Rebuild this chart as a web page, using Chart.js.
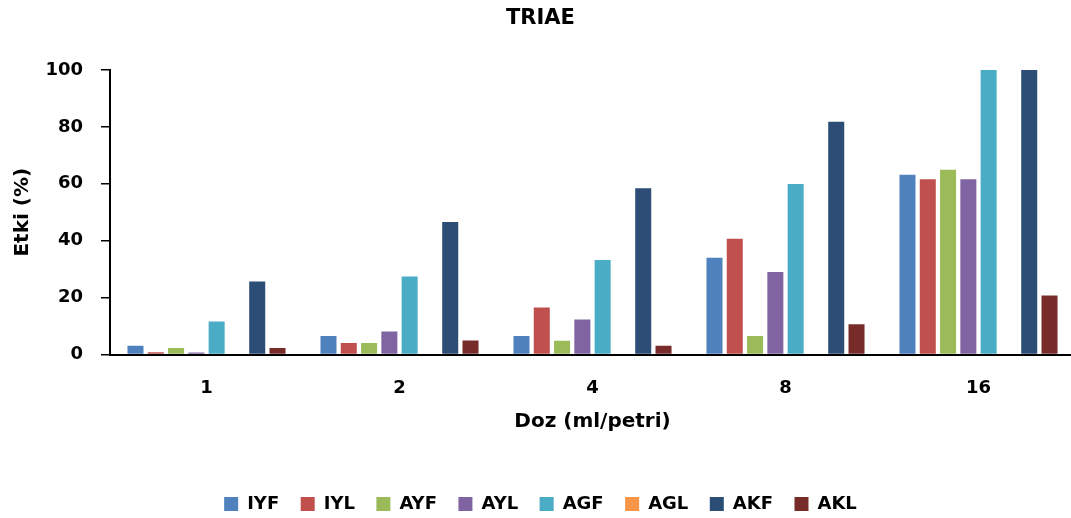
<!DOCTYPE html>
<html>
<head>
<meta charset="utf-8">
<script src="https://cdn.jsdelivr.net/npm/chart.js@4/dist/chart.umd.min.js"></script>
<style>
  html, body { margin: 0; padding: 0; background: #fff; overflow: hidden; }
  #wrap { width: 1075px; height: 523px; }
</style>
</head>
<body>
<div id="wrap"><canvas id="c" width="1075" height="523"></canvas></div>
<script>
const categories = ['1', '2', '4', '8', '16'];
const seriesNames = ['IYF', 'IYL', 'AYF', 'AYL', 'AGF', 'AGL', 'AKF', 'AKL'];
const IYF = [3.1, 6.5, 6.5, 34.0, 63.2];
const IYL = [0.8, 4.0, 16.5, 40.7, 61.6];
const AYF = [2.3, 4.0, 4.8, 6.5, 64.9];
const AYL = [0.7, 8.1, 12.3, 29.0, 61.6];
const AGF = [11.6, 27.4, 33.2, 59.9, 100];
const AGL = [0, 0, 0, 0, 0];
const AKF = [25.7, 46.6, 58.4, 81.8, 100];
const AKL = [2.3, 4.9, 3.1, 10.6, 20.7];
const seriesValues = [IYF, IYL, AYF, AYL, AGF, AGL, AKF, AKL];
const colors = ['#4F81BD', '#C0504D', '#9BBB59', '#8064A2', '#4BACC6', '#F79646', '#2C4D75', '#772C2A'];
const yTicks = [0, 20, 40, 60, 80, 100];

const FONT = "'DejaVu Sans', sans-serif";

const datasets = seriesNames.map((name, i) => ({
  label: name,
  data: seriesValues[i],
  backgroundColor: colors[i],
  borderWidth: 0,
  barPercentage: 0.79,
  categoryPercentage: 0.841
}));

new Chart(document.getElementById('c'), {
  type: 'bar',
  data: { labels: categories, datasets: datasets },
  options: {
    responsive: false,
    animation: false,
    devicePixelRatio: 1,
    layout: { padding: { left: 6, right: 0, top: 0, bottom: 0 } },
    plugins: {
      title: {
        display: true,
        text: 'TRIAE',
        color: '#000',
        font: { family: FONT, size: 21, weight: 'bold' },
        padding: { top: 6, bottom: 38.8 }
      },
      legend: {
        display: true,
        position: 'bottom',
        labels: {
          color: '#000',
          font: { family: FONT, size: 18, weight: 'bold' },
          boxWidth: 14,
          boxHeight: 14,
          padding: 21.5
        }
      },
      tooltip: { enabled: false }
    },
    scales: {
      x: {
        grid: { display: false, drawTicks: false },
        border: { display: true, color: '#000', width: 2 },
        ticks: {
          color: '#000',
          font: { family: FONT, size: 18, weight: 'bold' },
          padding: 23,
          maxRotation: 0
        },
        title: {
          display: true,
          text: 'Doz (ml/petri)',
          color: '#000',
          font: { family: FONT, size: 20, weight: 'bold' },
          padding: { top: 0, bottom: 39.5 }
        },
        afterFit(scale) { scale.height = 119; }
      },
      y: {
        min: 0,
        max: 100,
        afterBuildTicks(scale) { scale.ticks = yTicks.map(v => ({ value: v })); },
        grid: { display: true, drawOnChartArea: false, drawTicks: true, tickLength: 9, color: '#000', lineWidth: 1.5 },
        border: { display: true, color: '#000', width: 2 },
        ticks: {
          color: '#000',
          font: { family: FONT, size: 18, weight: 'bold' },
          padding: 18
        },
        title: {
          display: true,
          text: 'Etki (%)',
          color: '#000',
          font: { family: FONT, size: 20, weight: 'bold' },
          padding: { top: 5, bottom: 0 }
        },
        afterFit(scale) { scale.width = 104; }
      }
    }
  }
});
</script>
</body>
</html>
